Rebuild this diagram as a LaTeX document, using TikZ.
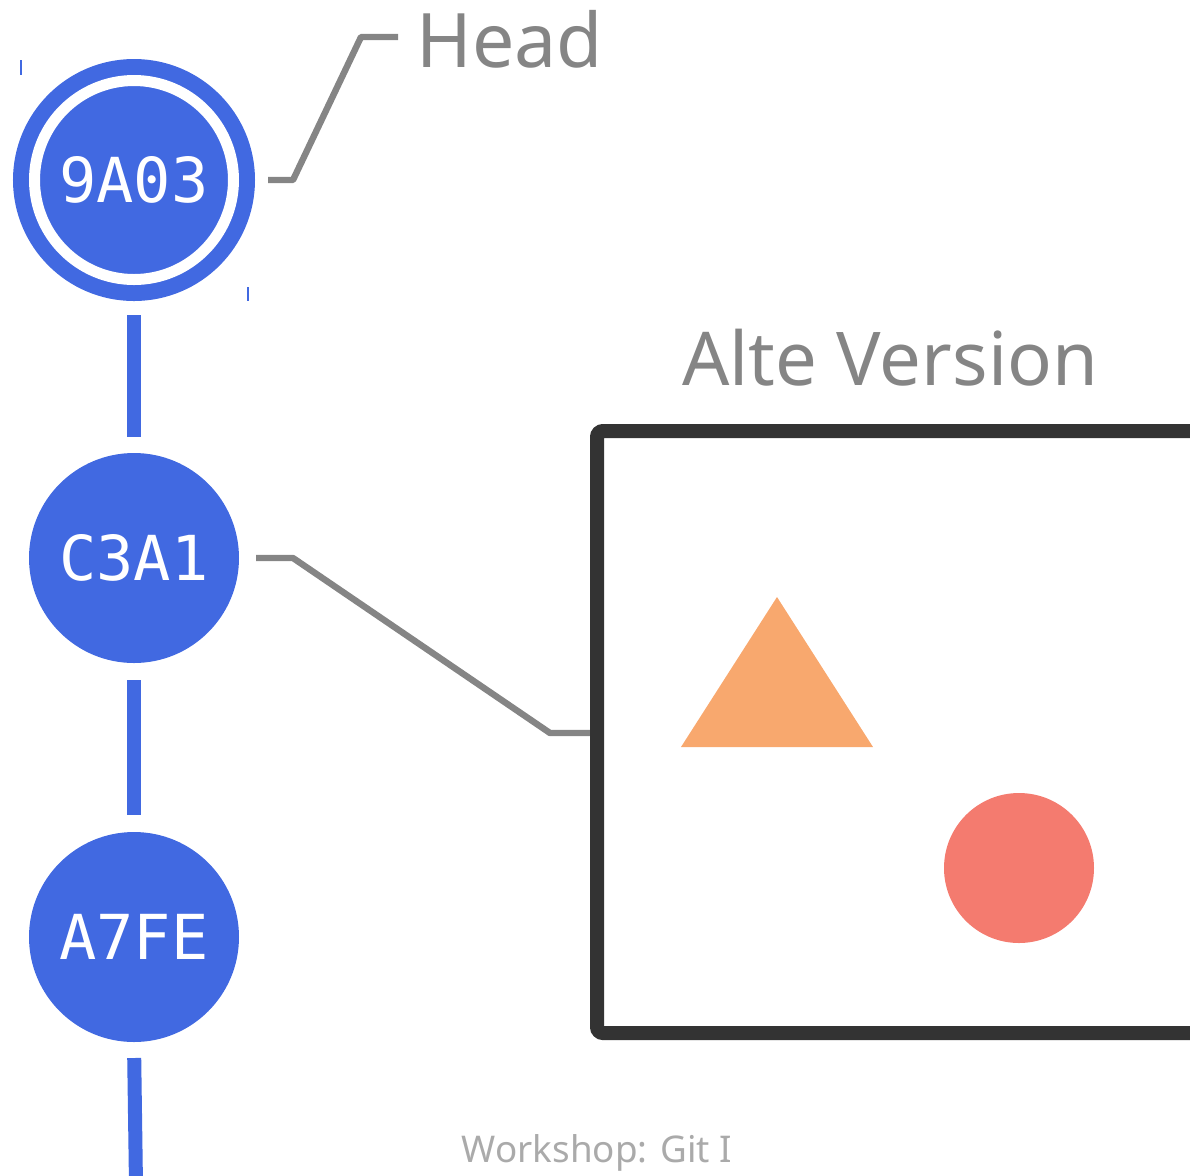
\documentclass[tikz,border=0pt]{standalone}
\usepackage{fontspec}
\setmainfont{Noto Sans}
\newfontfamily\hashfont{DejaVu Sans Mono}
\usetikzlibrary{positioning}

\definecolor{gitblue}{HTML}{4169E1}
\definecolor{pointgray}{HTML}{858585}
\definecolor{boxdark}{HTML}{333333}
\definecolor{footgray}{HTML}{AAAAAA}
\definecolor{triorange}{HTML}{F8A86E}
\definecolor{dotred}{HTML}{F47B6F}

\tikzset{
  commit/.style={circle, fill=gitblue, text=white, inner sep=0pt, outer sep=0pt,
    minimum size=105pt, font=\hashfont\fontsize{31}{31}\selectfont},
  headcommit/.style={commit, draw=gitblue, line width=8pt, double=white,
    double distance=5.5pt, minimum size=99.5pt},
  history/.style={gitblue, line width=7pt},
  pointer/.style={pointgray, line width=3.2pt},
  labeltext/.style={text=pointgray, inner sep=0pt, font=\fontsize{37.6}{38}\selectfont},
}

\begin{document}
\begin{tikzpicture}[x=0.5pt, y=-0.5pt]
  \useasboundingbox (0,0) rectangle (1190,1175);
  \clip (0,0) rectangle (1190,1175);

  % commits
  \node[headcommit] (c9a03) at (134,180) {9A03};
  \node[commit] (c3a1) at (134,558) {C3A1};
  \node[commit] (a7fe) at (134,937) {A7FE};
  \coordinate (past) at (136,1185);

  \draw[history, shorten <=17.75pt, shorten >=8pt] (c9a03) -- (c3a1);
  \draw[history, shorten <=8.5pt, shorten >=8.5pt] (c3a1) -- (a7fe);
  \draw[history, shorten <=8pt] (a7fe.south) -- (past);

  \draw[gitblue, line width=1pt] (21,60) -- (21,75);
  \draw[gitblue, line width=1pt] (248,287) -- (248,301);

  % head label
  \node[labeltext, anchor=base west] (headlbl) at (416,67) {Head};
  \draw[pointer, line join=round] ([xshift=17.25pt]c9a03.east) -- (293,180) -- (361,37) -- (398,37);

  % old version
  \node[labeltext, anchor=base west, font=\fontsize{37.1}{38}\selectfont] (oldlbl) at (682,385) {Alte Version};
  \draw[pointer, line join=round] ([xshift=8.5pt]c3a1.east) -- (293,558) -- (550,733) -- (597,733);
  \node[draw=boxdark, line width=7pt, rounded corners=3pt, inner sep=0pt, outer sep=0pt,
    minimum width=326.5pt, minimum height=301pt] (oldver) at (923.5,732) {};
  \fill[triorange] (681,747) -- (873,747) -- (777,597) -- cycle;
  \fill[dotred] (1019,868) circle (37.5pt);

  \node[text=footgray, anchor=base, font=\fontsize{18.4}{19}\selectfont] (foot) at (597,1162) {Workshop: Git I};
\end{tikzpicture}
\end{document}
